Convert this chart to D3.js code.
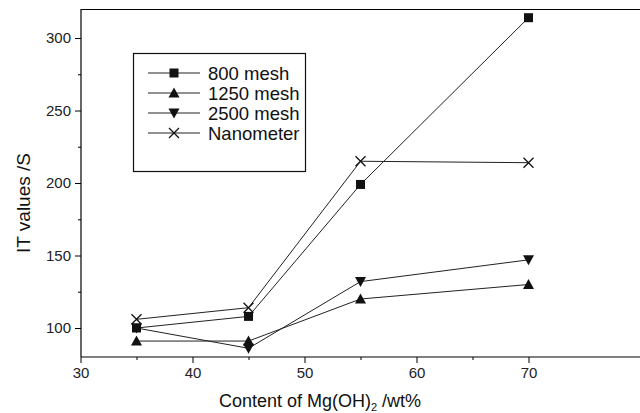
<!DOCTYPE html>
<html>
<head>
<meta charset="utf-8">
<script src="https://cdn.jsdelivr.net/npm/d3@7"></script>
<style>
  html, body { margin: 0; padding: 0; background: #fff; }
  svg { display: block; font-family: "Liberation Sans", Arial, sans-serif; }
</style>
</head>
<body>
<svg id="chart" width="640" height="413"></svg>
<script>
// Mg(OH)2 content (wt%) and measured IT values (s) per particle size
const contents = [35, 45, 55, 70];
const mesh800 = [100, 108, 199, 314];
const mesh1250 = [91, 91, 120, 130];
const mesh2500 = [100, 86, 132, 147];
const nanometer = [106, 114, 215, 214];

const seriesNames = ["800 mesh", "1250 mesh", "2500 mesh", "Nanometer"];
const xTicks = [30, 40, 50, 60, 70];
const yTicks = [100, 150, 200, 250, 300];

const series = [
  { name: seriesNames[0], values: mesh800, marker: "square" },
  { name: seriesNames[1], values: mesh1250, marker: "up" },
  { name: seriesNames[2], values: mesh2500, marker: "down" },
  { name: seriesNames[3], values: nanometer, marker: "cross" }
];

const svg = d3.select("#chart");
const plotLeft = 81, plotRight = 640, plotTop = 9, plotBottom = 357;

const x = d3.scaleLinear().domain([30, 80]).range([80.5, 640.5]);
const y = d3.scaleLinear().domain([80, 320]).range([plotBottom, plotTop]);

// frame top edge (right side runs off the canvas)
svg.append("line").attr("x1", plotLeft).attr("x2", plotRight).attr("y1", plotTop + 0.5).attr("y2", plotTop + 0.5)
  .attr("stroke", "#000").attr("stroke-width", 1);

// x axis
const xAxis = svg.append("g").attr("transform", `translate(0,${plotBottom})`)
  .call(d3.axisBottom(x).tickValues(xTicks).tickSize(6).tickPadding(4).tickFormat(d3.format("d")));
xAxis.select(".domain").attr("d", `M${plotLeft},0H${plotRight}`).attr("stroke-width", 1.2);
xAxis.selectAll("text").attr("font-size", 15).attr("fill", "#222");
svg.append("g").attr("transform", `translate(0,${plotBottom})`)
  .call(d3.axisBottom(x).tickValues([35, 45, 55, 65]).tickSize(3).tickFormat(""))
  .select(".domain").remove();

// y axis
const yAxis = svg.append("g").attr("transform", `translate(${plotLeft},0)`)
  .call(d3.axisLeft(y).tickValues(yTicks).tickSize(6).tickPadding(4));
yAxis.select(".domain").attr("d", `M0,${plotTop}V${plotBottom}`).attr("stroke-width", 1.2);
yAxis.selectAll("text").attr("font-size", 15).attr("fill", "#222");
svg.append("g").attr("transform", `translate(${plotLeft},0)`)
  .call(d3.axisLeft(y).tickValues([125, 175, 225, 275]).tickSize(3).tickFormat(""))
  .select(".domain").remove();

// axis titles
svg.append("text")
  .attr("x", 320).attr("y", 407)
  .attr("text-anchor", "middle").attr("font-size", 18).attr("fill", "#111")
  .html('Content of Mg(OH)<tspan dy="4" font-size="11">2</tspan><tspan dy="-4"> /wt%</tspan>');
svg.append("text")
  .attr("transform", "translate(30,203) rotate(-90)")
  .attr("text-anchor", "middle").attr("font-size", 19).attr("fill", "#111")
  .text("IT values /S");

// marker drawing
function drawMarker(g, type, cx, cy) {
  if (type === "square") {
    g.append("rect").attr("x", cx - 4.5).attr("y", cy - 4.5).attr("width", 9).attr("height", 9).attr("fill", "#111");
  } else if (type === "up") {
    g.append("path").attr("d", `M${cx},${cy - 5.5}L${cx + 5.5},${cy + 4.5}L${cx - 5.5},${cy + 4.5}Z`).attr("fill", "#111");
  } else if (type === "down") {
    g.append("path").attr("d", `M${cx},${cy + 5.5}L${cx + 5.5},${cy - 4.5}L${cx - 5.5},${cy - 4.5}Z`).attr("fill", "#111");
  } else {
    g.append("path").attr("d", `M${cx - 5},${cy - 5}L${cx + 5},${cy + 5}M${cx - 5},${cy + 5}L${cx + 5},${cy - 5}`)
      .attr("stroke", "#111").attr("stroke-width", 1.3).attr("fill", "none");
  }
}

const line = d3.line().x((d, i) => x(contents[i])).y(d => y(d));

series.forEach(s => {
  svg.append("path").datum(s.values).attr("d", line)
    .attr("fill", "none").attr("stroke", "#222").attr("stroke-width", 1);
});
series.forEach(s => {
  const g = svg.append("g");
  s.values.forEach((v, i) => drawMarker(g, s.marker, x(contents[i]), y(v)));
});

// legend
const legend = svg.append("g");
legend.append("rect").attr("x", 133.5).attr("y", 53.5).attr("width", 172).attr("height", 118)
  .attr("fill", "#fff").attr("stroke", "#111").attr("stroke-width", 1.2);
series.forEach((s, i) => {
  const ly = 73 + i * 20;
  legend.append("line").attr("x1", 148).attr("x2", 200).attr("y1", ly).attr("y2", ly)
    .attr("stroke", "#222").attr("stroke-width", 1);
  drawMarker(legend, s.marker, 174, ly);
  legend.append("text").attr("x", 208).attr("y", ly + 6.5)
    .attr("font-size", 18.5).attr("fill", "#111").text(s.name);
});
</script>
</body>
</html>
